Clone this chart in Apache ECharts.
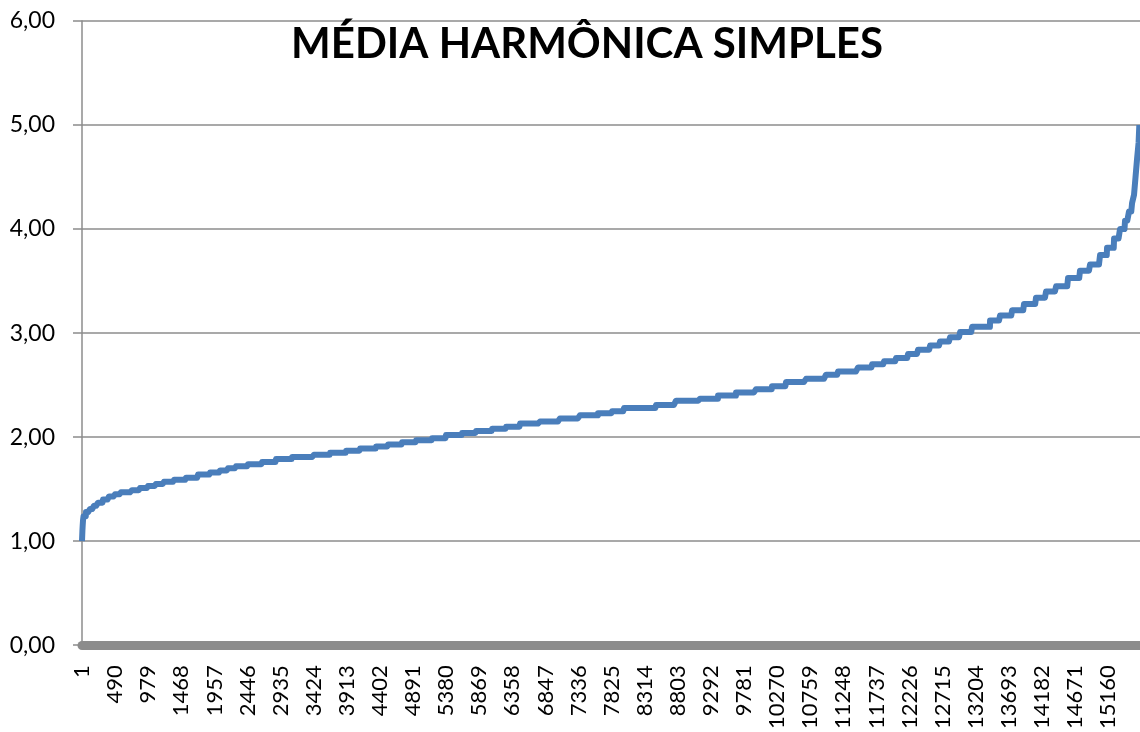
<!DOCTYPE html>
<html>
<head>
<meta charset="utf-8">
<script src="https://cdn.jsdelivr.net/npm/echarts@6/dist/echarts.min.js"></script>
<style>
  html, body { margin: 0; padding: 0; background: #fff; }
  #chart { width: 1140px; height: 732px; }
</style>
</head>
<body>
<div id="chart"></div>
<script>
// distinct values of the sorted series and how many observations sit on each level
const levels = [
  1.00, 1.05, 1.10, 1.15, 1.20, 1.24, 1.28, 1.31, 1.34, 1.37,
  1.40, 1.43, 1.45, 1.47, 1.49, 1.51, 1.53, 1.55, 1.57, 1.59,
  1.61, 1.64, 1.66, 1.68, 1.70, 1.72, 1.74, 1.76, 1.79, 1.81,
  1.83, 1.85, 1.87, 1.89, 1.91, 1.93, 1.95, 1.97, 1.99, 2.02,
  2.04, 2.06, 2.08, 2.10, 2.13, 2.15, 2.18, 2.21, 2.23, 2.25,
  2.28, 2.31, 2.35, 2.37, 2.40, 2.43, 2.46, 2.49, 2.53, 2.56,
  2.60, 2.63, 2.67, 2.70, 2.73, 2.76, 2.80, 2.84, 2.88, 2.92,
  2.96, 3.01, 3.06, 3.12, 3.17, 3.22, 3.28, 3.34, 3.40, 3.45,
  3.53, 3.60, 3.66, 3.75, 3.82, 3.91, 4.00, 4.08, 4.17, 4.25,
  4.33, 4.50, 4.67, 4.83, 5.00
];
const counts = [
  3, 3, 4, 5, 8, 36, 59, 59, 59, 74,
  89, 89, 88, 163, 118, 118, 118, 118, 148, 177,
  178, 177, 148, 118, 118, 177, 207, 207, 236, 325,
  237, 236, 207, 236, 178, 206, 207, 237, 206, 237,
  207, 236, 207, 207, 295, 295, 296, 266, 207, 177,
  473, 295, 355, 266, 266, 295, 236, 207, 296, 295,
  177, 296, 207, 177, 177, 178, 147, 178, 147, 148,
  148, 177, 266, 148, 177, 177, 177, 148, 148, 177,
  177, 148, 148, 103, 104, 88, 74, 59, 45, 29,
  22, 22, 23, 11, 11
];
const yTicks = [0, 1, 2, 3, 4, 5, 6];
const labelStep = 489;

// expand the frequency table into the sorted list of observations
let values = [];
levels.forEach((v, i) => {
  for (let k = 0; k < counts[i]; k++) values.push(v);
});
let categories = values.map((v, i) => String(i + 1));

const grey = '#8c8c8c';
const myChart = echarts.init(document.getElementById('chart'));

myChart.setOption({
  backgroundColor: '#fff',
  animation: false,
  title: {
    text: 'MÉDIA HARMÔNICA SIMPLES',
    left: 582,
    top: 18,
    textAlign: 'center',
    textStyle: {
      fontFamily: 'Lato',
      fontWeight: 'bold',
      fontSize: 42,
      color: '#000'
    }
  },
  grid: {
    left: 82,
    right: 0,
    top: 21,
    bottom: 85.5,
    containLabel: false
  },
  xAxis: {
    type: 'category',
    data: categories,
    boundaryGap: false,
    offset: 5,
    axisLine: { lineStyle: { color: grey, width: 9 } },
    axisTick: { show: false },
    axisLabel: {
      interval: labelStep - 1,
      rotate: 90,
      margin: 15,
      fontFamily: 'Lato',
      fontSize: 22,
      color: '#000'
    },
    splitLine: { show: false }
  },
  yAxis: {
    type: 'value',
    min: yTicks[0],
    max: yTicks[yTicks.length - 1],
    interval: 1,
    axisLine: { show: true, lineStyle: { color: grey, width: 1.5 } },
    axisTick: { show: true, length: 9, lineStyle: { color: grey, width: 1.5 } },
    axisLabel: {
      margin: 27,
      fontFamily: 'Lato',
      fontSize: 23,
      color: '#000',
      formatter: (v) => v.toFixed(2).replace('.', ',')
    },
    splitLine: { lineStyle: { color: grey, width: 1.5 } }
  },
  series: [{
    type: 'line',
    data: values,
    showSymbol: false,
    symbol: 'none',
    sampling: 'none',
    lineStyle: { color: '#4a7ebb', width: 6, join: 'round' },
    itemStyle: { color: '#4a7ebb' }
  }]
});
</script>
</body>
</html>
